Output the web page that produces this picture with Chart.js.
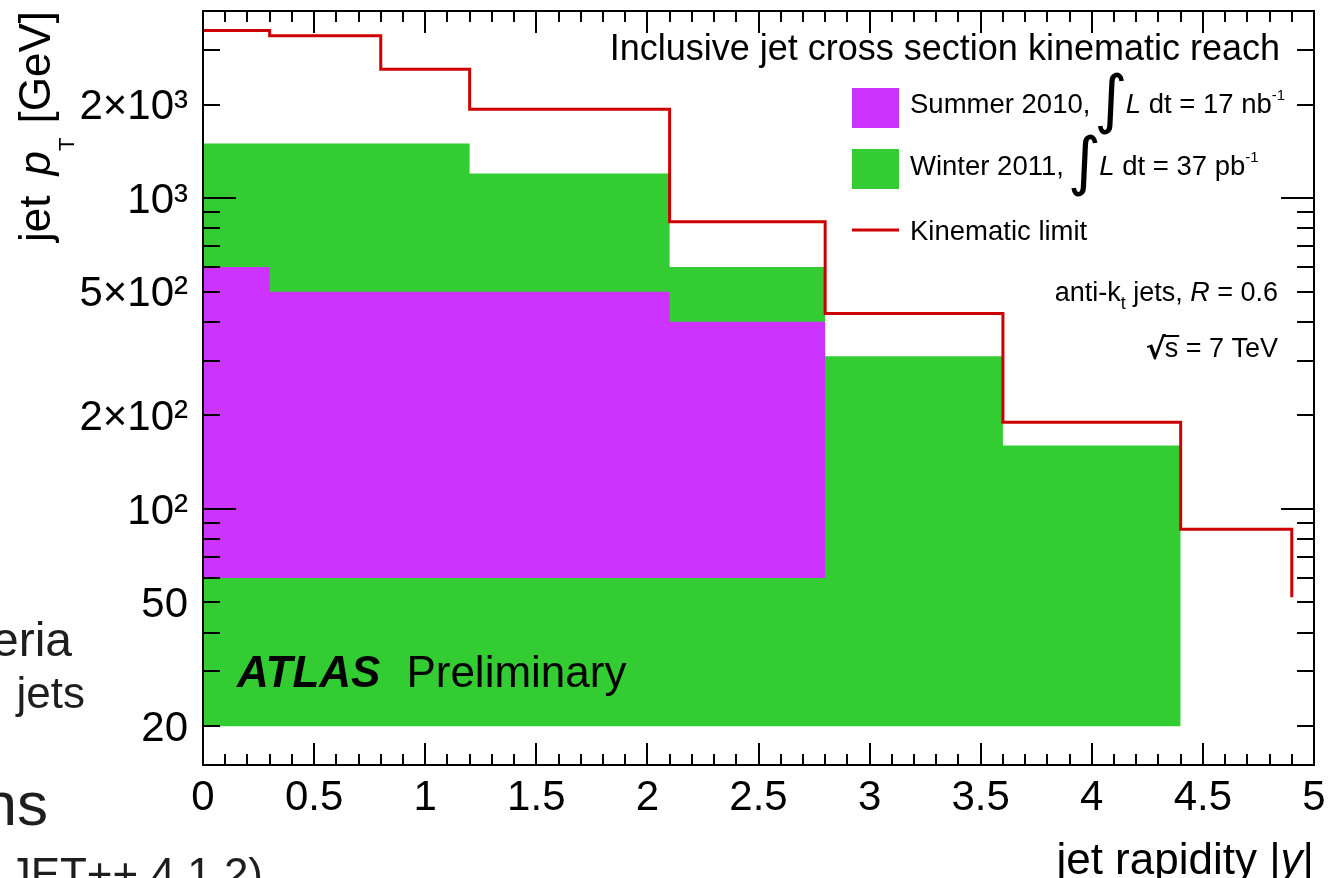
<!DOCTYPE html>
<html lang="en">
<head>
  <meta charset="UTF-8">
  <title>Inclusive jet cross section kinematic reach</title>
  <script src="https://cdn.jsdelivr.net/npm/chart.js"></script>
  <style>
    html, body { margin: 0; padding: 0; background: #fff; }
    canvas { display: block; }
  </style>
</head>
<body>
  <canvas id="reach" width="1331" height="878"></canvas>

  <script>
    // rapidity bins |y|
    const rapidityEdges = [0, 0.3, 0.8, 1.2, 2.1, 2.8, 3.6, 4.4, 4.9];
    // highest jet pT reached in each bin [GeV]
    const summer2010 = [600, 500, 500, 500, 400];
    const winter2011 = [1500, 1500, 1500, 1200, 600, 310, 160];
    const kinematicLimit = [3460, 3330, 2600, 1930, 840, 425, 190, 86];
    const kinematicLimitEnd = 52;
    // lowest jet pT of each sample [GeV]
    const summer2010Min = 60;
    const winter2011Min = 20;

    const xTicks = [0, 0.5, 1, 1.5, 2, 2.5, 3, 3.5, 4, 4.5, 5];
    const xTickLabels = ['0', '0.5', '1', '1.5', '2', '2.5', '3', '3.5', '4', '4.5', '5'];
    const yTicks = [20, 50, 100, 200, 500, 1000, 2000];
    const yTickLabels = ['20', '50', '10²', '2×10²', '5×10²', '10³', '2×10³'];

    const FONT = '"Liberation Sans", Arial, sans-serif';
    const f = (size, style) => (style ? style + ' ' : '') + size + 'px ' + FONT;

    // histogram -> points for a stepped line
    function steps(values) {
      const pts = values.map((v, i) => ({ x: rapidityEdges[i], y: v }));
      pts.push({ x: rapidityEdges[values.length], y: values[values.length - 1] });
      return pts;
    }

    const limitPts = steps(kinematicLimit);
    limitPts.push({ x: rapidityEdges[kinematicLimit.length], y: kinematicLimitEnd });

    // draw a run of text pieces (font changes, sub/superscripts)
    function rich(ctx, parts, x, y, align) {
      let w = 0;
      parts.forEach(p => {
        ctx.font = p.font;
        p.w = ctx.measureText(p.t).width + (p.gap || 0);
        w += p.w;
      });
      let cx = align === 'right' ? x - w : x;
      parts.forEach(p => {
        ctx.font = p.font;
        ctx.fillText(p.t, cx + (p.pre || 0), y + (p.dy || 0));
        cx += p.w;
      });
      return cx;
    }

    const atlasDecor = {
      id: 'atlasDecor',
      afterDatasetsDraw(chart) {
        const { ctx, chartArea: a, scales: { x, y } } = chart;
        ctx.save();
        ctx.strokeStyle = '#000';
        ctx.lineWidth = 2;
        ctx.beginPath();
        // x ticks, bottom and top, inside the frame
        for (let i = 0; i <= 50; i++) {
          const px = Math.round(x.getPixelForValue(i / 10));
          const len = i % 5 === 0 ? 22 : 11;
          ctx.moveTo(px, a.bottom); ctx.lineTo(px, a.bottom - len);
          ctx.moveTo(px, a.top); ctx.lineTo(px, a.top + len);
        }
        // y ticks, left and right
        for (let d = 10; d <= 1000; d *= 10) {
          for (let m = 1; m <= 9; m++) {
            const v = m * d;
            if (v < y.min || v > y.max) continue;
            const py = Math.round(y.getPixelForValue(v));
            const len = m === 1 ? 33 : 17;
            ctx.moveTo(a.left, py); ctx.lineTo(a.left + len, py);
            ctx.moveTo(a.right, py); ctx.lineTo(a.right - len, py);
          }
        }
        ctx.stroke();
        ctx.strokeRect(a.left, a.top, a.right - a.left, a.bottom - a.top);
        ctx.restore();
      },
      afterDraw(chart) {
        const { ctx } = chart;
        ctx.save();
        ctx.fillStyle = '#000';
        ctx.textAlign = 'left';
        ctx.textBaseline = 'alphabetic';

        rich(ctx, [{ t: 'Inclusive jet cross section kinematic reach', font: f(36) }], 1280, 60, 'right');

        // legend
        ctx.fillStyle = '#cc33ff';
        ctx.fillRect(852, 88, 47, 40);
        ctx.fillStyle = '#33cc33';
        ctx.fillRect(852, 149, 47, 40);
        ctx.strokeStyle = '#cc0000';
        ctx.lineWidth = 3;
        ctx.beginPath(); ctx.moveTo(852, 230); ctx.lineTo(899, 230); ctx.stroke();

        ctx.fillStyle = '#000';
        const integral = { t: '∫', font: '64px "DejaVu Sans"', dy: 8, gap: -2 };
        rich(ctx, [
          { t: 'Summer 2010,', font: f(27.5), gap: 4 },
          Object.assign({}, integral),
          { t: 'L', font: f(27.5, 'italic') },
          { t: ' dt = 17 nb', font: f(27.5) },
          { t: '-1', font: f(15), dy: -13 }
        ], 910, 113);
        rich(ctx, [
          { t: 'Winter 2011,', font: f(27.5), gap: 4 },
          Object.assign({}, integral),
          { t: 'L', font: f(27.5, 'italic') },
          { t: ' dt = 37 pb', font: f(27.5) },
          { t: '-1', font: f(15), dy: -13 }
        ], 910, 175);
        rich(ctx, [{ t: 'Kinematic limit', font: f(27.5) }], 910, 240);

        rich(ctx, [
          { t: 'anti-k', font: f(27) },
          { t: 't', font: f(18), dy: 8 },
          { t: ' jets, ', font: f(27) },
          { t: 'R', font: f(27, 'italic') },
          { t: ' = 0.6', font: f(27) }
        ], 1278, 301, 'right');

        // sqrt(s) = 7 TeV
        ctx.font = f(27);
        const restW = ctx.measureText('s = 7 TeV').width;
        const sW = ctx.measureText('s').width;
        const sx = 1278 - restW;
        ctx.fillText('s = 7 TeV', sx, 357);
        ctx.font = 'bold 30px "DejaVu Sans"';
        ctx.textAlign = 'right';
        ctx.fillText('√', sx + 1, 359);
        ctx.textAlign = 'left';
        ctx.lineWidth = 2;
        ctx.strokeStyle = '#000';
        ctx.beginPath(); ctx.moveTo(sx - 1, 336); ctx.lineTo(sx + sW + 1, 336); ctx.stroke();

        // ATLAS label
        rich(ctx, [
          { t: 'ATLAS', font: f(44, 'bold italic'), gap: 26 },
          { t: 'Preliminary', font: f(44) }
        ], 237, 687);

        // axis titles
        rich(ctx, [
          { t: 'jet rapidity |', font: f(44) },
          { t: 'y', font: f(44, 'italic') },
          { t: '|', font: f(44) }
        ], 1314, 874, 'right');

        ctx.save();
        ctx.translate(50, 11);
        ctx.rotate(-Math.PI / 2);
        rich(ctx, [
          { t: 'jet ', font: f(44), gap: 8 },
          { t: 'p', font: f(44, 'italic') },
          { t: 'T', font: f(22), dy: 24, gap: 14 },
          { t: '[GeV]', font: f(44) }
        ], 0, 0, 'right');
        ctx.restore();

        // text of the slide behind the figure
        ctx.fillStyle = '#1e1e1e';
        ctx.textAlign = 'right';
        ctx.font = f(48); ctx.fillText('eria', 72, 656);
        ctx.font = f(44); ctx.fillText('jets', 85, 708);
        ctx.font = f(62); ctx.fillText('ns', 48, 825);
        ctx.font = f(44); ctx.fillText('JET++ 4.1.2)', 263, 889);
        ctx.restore();
      }
    };

    Chart.defaults.color = '#000';

    const ctx = document.getElementById('reach').getContext('2d');
    new Chart(ctx, {
      type: 'line',
      data: {
        datasets: [
          {
            label: 'Kinematic limit',
            data: limitPts,
            stepped: 'before',
            borderColor: '#cc0000',
            borderWidth: 3,
            borderJoinStyle: 'miter',
            pointRadius: 0,
            fill: false
          },
          {
            label: 'Summer 2010',
            data: steps(summer2010),
            stepped: 'before',
            borderColor: 'transparent',
            borderWidth: 1,
            backgroundColor: '#cc33ff',
            pointRadius: 0,
            fill: { value: summer2010Min }
          },
          {
            label: 'Winter 2011',
            data: steps(winter2011),
            stepped: 'before',
            borderColor: 'transparent',
            borderWidth: 1,
            backgroundColor: '#33cc33',
            pointRadius: 0,
            fill: { value: winter2011Min }
          }
        ]
      },
      options: {
        responsive: false,
        animation: false,
        layout: { padding: { top: 11, right: 17, left: 0, bottom: 0 } },
        plugins: { legend: { display: false }, tooltip: { enabled: false } },
        scales: {
          x: {
            type: 'linear',
            min: 0,
            max: 5,
            grid: { display: false, drawTicks: false },
            border: { display: false },
            afterBuildTicks: s => { s.ticks = xTicks.map(v => ({ value: v })); },
            afterFit: s => { s.height = 113; s.paddingLeft = 0; s.paddingRight = 0; },
            ticks: {
              autoSkip: false,
              maxRotation: 0,
              padding: 8,
              font: { family: FONT, size: 42 },
              callback: (v, i) => xTickLabels[i]
            }
          },
          y: {
            type: 'logarithmic',
            min: 15,
            max: 4000,
            grid: { display: false, drawTicks: false },
            border: { display: false },
            afterBuildTicks: s => { s.ticks = yTicks.map(v => ({ value: v })); },
            afterFit: s => { s.width = 203; s.paddingTop = 0; s.paddingBottom = 0; },
            ticks: {
              autoSkip: false,
              padding: 15,
              labelOffset: 3,
              font: { family: FONT, size: 42 },
              callback: (v, i) => yTickLabels[i]
            }
          }
        }
      },
      plugins: [atlasDecor]
    });
  </script>
</body>
</html>
